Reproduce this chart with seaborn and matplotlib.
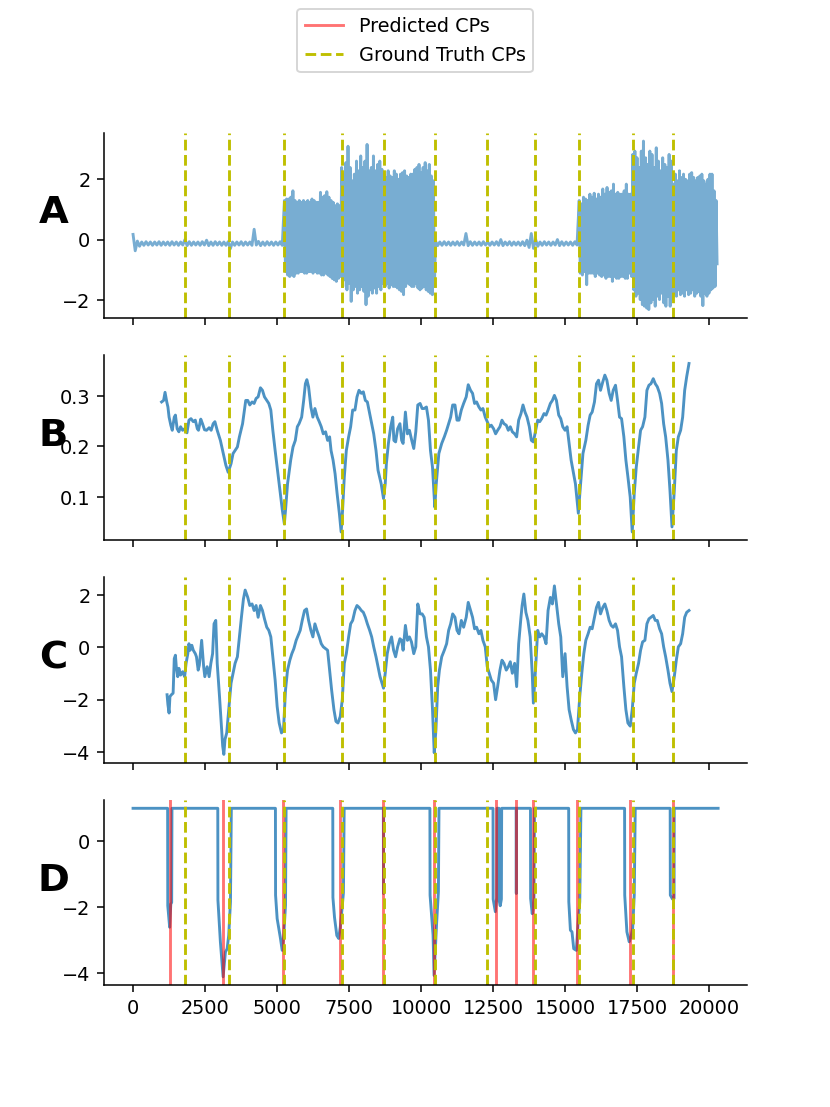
import numpy as np
import matplotlib
matplotlib.use("Agg")
import matplotlib.pyplot as plt
import seaborn as sns
from matplotlib.lines import Line2D

# ---------------- data ----------------
gt_cps = [1794, 3323, 5252, 7238, 8708, 10493, 12278, 13939, 15480, 17338, 18748]
pred_cps = [1278, 3130, 5186, 7188, 8689, 10448, 12580, 13300, 13860, 15418, 17260, 18724]

# Panel A: raw signal, described by its upper / lower envelope per regime
a_bounds = [0, 5252, 7238, 8708, 10493, 15480, 17338, 18748, 20300]
a_hi_q1 = [0.17, -0.05, -0.08, -0.07, -0.08, -0.08, -0.07, -0.08, -0.08, -0.07, -0.08, -0.08,
           0.0, -0.07, -0.08, -0.08, -0.07, -0.02, -0.08, -0.07, -0.08, -0.08, -0.07, -0.08,
           -0.08, -0.07, -0.08, -0.08, 0.34, -0.06, -0.08, -0.07, -0.08, -0.08, -0.07]
a_lo_q1 = [-0.37, -0.22, -0.19, -0.18, -0.19, -0.18, -0.19, -0.18, -0.19, -0.18, -0.19, -0.18,
           -0.2, -0.19, -0.18, -0.19, -0.18, -0.2, -0.19, -0.18, -0.19, -0.19, -0.3, -0.19,
           -0.18, -0.19, -0.18, -0.19, -0.18, -0.2, -0.19, -0.18, -0.19, -0.18, -0.19]
a_hi_s1 = [1.29, 1.34, 1.34, 1.40, 1.61, 1.29, 1.23, 1.29, 1.23, 1.29, 1.23, 1.29, 1.23, 1.34,
           1.29, 1.23, 1.23, 1.56, 1.40, 1.45, 1.58, 1.40, 1.29, 1.23, 1.12, 1.18, 1.12]
a_lo_s1 = [-1.06, -1.17, -1.22, -1.17, -1.22, -1.11, -1.11, -1.06, -1.06, -1.11, -1.11, -1.06,
           -1.06, -1.11, -1.06, -1.11, -1.11, -1.17, -1.17, -1.11, -1.17, -1.22, -1.28, -1.33,
           -1.38, -1.28, -1.22]
a_hi_s2 = [2.38, 2.16, 2.54, 3.08, 2.38, 1.94, 2.16, 2.59, 2.27, 2.76, 2.38, 2.59, 3.14, 2.27,
           2.38, 2.76, 2.27, 2.48, 2.59, 2.32]
a_lo_s2 = [-1.55, -1.33, -1.66, -1.44, -2.04, -1.66, -1.55, -1.77, -1.66, -1.55, -1.71, -2.15,
           -1.87, -1.66, -1.77, -1.60, -1.77, -1.55, -1.66, -1.44]
a_hi_s3 = [2.16, 2.05, 2.27, 2.10, 2.05, 2.27, 2.16, 1.99, 2.16, 2.21, 2.27, 2.10, 2.05, 2.16,
           2.16, 2.32, 2.38, 2.48, 2.21, 2.38, 2.54, 2.27, 2.48, 2.10, 1.94]
a_lo_s3 = [-1.55, -1.44, -1.60, -1.49, -1.55, -1.55, -1.60, -1.66, -1.71, -1.82, -1.55, -1.44,
           -1.49, -1.55, -1.55, -1.44, -1.60, -1.66, -1.60, -1.55, -1.66, -1.71, -1.77, -1.82,
           -1.55]
a_hi_q2 = [-0.05, -0.08, -0.07, -0.08, -0.08, -0.07, -0.08, 0.2, -0.07, -0.08, -0.08, -0.07,
           -0.08, -0.08, -0.07, 0.0, -0.08, -0.07, -0.08, -0.08, -0.07, -0.02, 0.2, 0.0, -0.08,
           -0.07, -0.08, -0.08, 0.0, -0.07, -0.08, -0.08, -0.07]
a_lo_q2 = [-0.2, -0.19, -0.18, -0.19, -0.18, -0.19, -0.18, -0.2, -0.19, -0.18, -0.19, -0.18,
           -0.19, -0.18, -0.19, -0.2, -0.18, -0.19, -0.18, -0.19, -0.2, -0.26, -0.29, -0.22,
           -0.19, -0.18, -0.19, -0.18, -0.2, -0.19, -0.18, -0.19, -0.18]
a_hi_s4 = [1.29, 1.18, 1.40, 1.34, 1.29, 1.50, 1.40, 1.53, 1.34, 1.50, 1.40, 1.67, 1.50, 1.72,
           1.56, 1.61, 1.83, 1.50, 1.56, 1.50, 1.50, 1.61, 1.83, 1.50, 1.50]
a_lo_s4 = [-1.11, -1.17, -1.06, -1.49, -1.11, -1.11, -1.11, -1.22, -1.11, -1.17, -1.22, -1.17,
           -1.28, -1.22, -1.22, -1.38, -1.22, -1.28, -1.28, -1.22, -1.22, -1.28, -1.28, -1.11,
           -1.22]
a_hi_s5 = [2.81, 2.92, 2.70, 2.38, 2.92, 3.25, 2.70, 2.48, 2.92, 2.81, 2.38, 3.03, 2.59, 2.27,
           2.70, 2.48, 2.38, 2.81, 2.59]
a_lo_s5 = [-1.66, -1.87, -1.77, -1.98, -2.15, -2.20, -2.26, -2.31, -2.09, -1.98, -2.20, -1.87,
           -1.98, -1.77, -2.09, -2.20, -1.87, -2.20, -1.98]
a_hi_s6 = [1.83, 2.16, 1.94, 2.27, 2.05, 2.16, 1.99, 1.94, 2.16, 2.21, 2.05, 1.94, 2.05, 2.10,
           2.16, 1.94, 1.83, 1.99, 2.16, 2.16, 1.61, 1.29]
a_lo_s6 = [-1.77, -1.87, -1.66, -1.82, -1.77, -1.87, -1.66, -1.82, -1.77, -1.66, -1.87, -1.77,
           -1.71, -1.87, -2.18, -1.77, -1.87, -1.77, -1.66, -1.60, -1.55, -0.80]

# Panel B
b_x = [990, 1060, 1110, 1170, 1210, 1250, 1310, 1360, 1430, 1470, 1530, 1590, 1650, 1720, 1790,
       1870, 1940, 2010, 2090, 2160, 2230, 2270, 2350, 2410, 2480, 2550, 2640, 2710, 2780, 2840,
       2920, 3030, 3130, 3220, 3300, 3400, 3470, 3540, 3620, 3690, 3800, 3910, 3980, 4050, 4130,
       4200, 4270, 4340, 4420, 4490, 4560, 4640, 4710, 4780, 4850, 4930, 5000, 5100, 5180, 5250,
       5290, 5360, 5470, 5550, 5630, 5700, 5760, 5850, 5920, 5980, 6030, 6090, 6170, 6240, 6310,
       6390, 6460, 6530, 6600, 6680, 6750, 6820, 6870, 6940, 7010, 7080, 7160, 7220, 7270, 7330,
       7400, 7480, 7550, 7620, 7700, 7770, 7840, 7920, 7990, 8060, 8130, 8210, 8280, 8350, 8430,
       8500, 8610, 8690, 8750, 8790, 8860, 8940, 9010, 9050, 9110, 9180, 9260, 9320, 9370, 9450,
       9520, 9590, 9670, 9740, 9810, 9880, 9960, 10030, 10100, 10180, 10250, 10320, 10390, 10470,
       10520, 10610, 10710, 10800, 10880, 10950, 11020, 11090, 11170, 11240, 11310, 11390, 11470,
       11560, 11630, 11710, 11780, 11850, 11920, 12000, 12070, 12140, 12220, 12290, 12360, 12430,
       12510, 12580, 12650, 12730, 12800, 12870, 12950, 13020, 13090, 13160, 13240, 13310, 13380,
       13460, 13530, 13600, 13670, 13750, 13820, 13890, 13970, 14040, 14110, 14180, 14260, 14330,
       14400, 14480, 14550, 14620, 14690, 14770, 14840, 14910, 14990, 15060, 15130, 15200, 15350,
       15450, 15530, 15610, 15710, 15790, 15860, 15930, 16010, 16080, 16150, 16220, 16300, 16370,
       16440, 16520, 16590, 16660, 16740, 16810, 16880, 16950, 17030, 17100, 17170, 17250, 17320,
       17390, 17460, 17540, 17610, 17680, 17760, 17830, 17900, 17970, 18050, 18120, 18190, 18270,
       18340, 18410, 18480, 18560, 18630, 18700, 18780, 18850, 18920, 19000, 19070, 19140, 19210,
       19290]
b_y = [.288, .291, .307, .288, .278, .258, .242, .232, .258, .262, .235, .229, .239, .232, .235,
       .227, .252, .255, .249, .252, .235, .232, .254, .245, .233, .232, .237, .232, .245, .249,
       .232, .212, .186, .163, .149, .166, .186, .192, .199, .219, .245, .291, .291, .282, .288,
       .285, .295, .298, .316, .311, .298, .291, .285, .272, .232, .192, .159, .113, .074, .047,
       .074, .126, .173, .199, .212, .239, .245, .258, .291, .324, .332, .318, .278, .258, .275,
       .258, .249, .239, .225, .229, .212, .219, .192, .173, .146, .107, .067, .031, .074, .140,
       .192, .219, .239, .272, .272, .298, .311, .305, .308, .291, .288, .265, .245, .225, .192,
       .153, .126, .097, .126, .166, .206, .239, .258, .212, .209, .235, .245, .212, .206, .268,
       .225, .232, .212, .196, .229, .282, .285, .275, .275, .278, .252, .192, .159, .080,
       .126, .186, .206, .219, .232, .245, .258, .282, .282, .252, .252, .272, .285,
       .298, .322, .311, .305, .285, .288, .278, .272, .275, .258, .249, .239, .242,
       .235, .225, .232, .239, .252, .245, .242, .232, .239, .229, .225, .219, .252,
       .265, .282, .268, .258, .239, .212, .209, .232, .252, .249, .255, .265, .262,
       .272, .285, .291, .301, .291, .262, .255, .239, .232, .239, .206, .173, .126,
       .068, .126, .186, .212, .242, .262, .268, .288, .324, .331, .311, .328, .341,
       .331, .305, .291, .311, .321, .291, .258, .255, .219, .173, .140, .100, .031,
       .107, .159, .199, .232, .239, .258, .311, .321, .324, .334, .324, .318, .305,
       .285, .245, .219, .173, .113, .041, .113, .192, .219, .232, .258, .311, .338,
       .364]

# Panel C
c_x = [1180, 1210, 1250, 1280, 1330, 1390, 1430, 1470, 1500, 1550, 1590, 1650, 1720, 1790, 1840,
       1900, 1940, 1980, 2040, 2090, 2160, 2200, 2260, 2300, 2380, 2450, 2490, 2570, 2640, 2700,
       2760, 2810, 2870, 2920, 2960, 3000, 3050, 3110, 3150, 3190, 3250, 3320, 3400, 3470, 3540,
       3620, 3690, 3760, 3830, 3890, 3980, 4050, 4130, 4200, 4270, 4340, 4420, 4490, 4560, 4640,
       4710, 4780, 4850, 4930, 5000, 5070, 5150, 5220, 5290, 5360, 5440, 5510, 5580, 5660, 5730,
       5800, 5870, 5950, 6020, 6090, 6170, 6240, 6310, 6380, 6460, 6530, 6600, 6680, 6750, 6820,
       6890, 6970, 7040, 7110, 7190, 7260, 7330, 7400, 7480, 7550, 7620, 7700, 7770, 7840, 7920,
       7990, 8060, 8130, 8210, 8280, 8350, 8430, 8500, 8570, 8640, 8690, 8750, 8820, 8890, 8970,
       9040, 9110, 9180, 9260, 9320, 9370, 9450, 9520, 9590, 9660, 9740, 9810, 9880, 9960, 10030,
       10100, 10180, 10250, 10320, 10390, 10450, 10510, 10570, 10630, 10710, 10800, 10880, 10950,
       11020, 11090, 11170, 11240, 11310, 11390, 11470, 11560, 11630, 11710, 11780, 11850, 11920,
       12000, 12070, 12140, 12220, 12290, 12360, 12430, 12510, 12580, 12650, 12730, 12800, 12870,
       12950, 13020, 13090, 13160, 13240, 13310, 13380, 13460, 13500, 13560, 13630, 13700, 13780,
       13850, 13890, 13970, 14040, 14110, 14180, 14260, 14330, 14400, 14480, 14550, 14620, 14690,
       14770, 14840, 14910, 14990, 15060, 15130, 15200, 15280, 15350, 15420, 15500, 15570, 15640,
       15710, 15790, 15860, 15930, 16010, 16080, 16150, 16220, 16300, 16370, 16440, 16520, 16590,
       16660, 16740, 16810, 16880, 16950, 17030, 17100, 17170, 17250, 17320, 17390, 17460, 17540,
       17610, 17680, 17760, 17830, 17900, 17970, 18050, 18120, 18190, 18270, 18340, 18410, 18480,
       18560, 18630, 18700, 18780, 18850, 18920, 19000, 19070, 19140, 19210, 19290]
c_y = [-1.81, -2.19, -2.51, -1.88, -1.81, -1.75, -0.43, -0.30, -0.74, -1.12, -0.80, -1.06, -0.93,
       -1.12, -0.61, -0.24, 0.14, -0.11, 0.08, -0.11, -0.24, -0.36, -0.87, -0.68, 0.27, -0.74,
       -1.12, -0.74, -1.12, -0.61, -0.24, 0.90, 1.03, -0.61, -1.25, -1.88, -2.76, -3.77, -4.09,
       -3.52, -3.27, -2.38, -1.37, -0.99, -0.61, -0.36, 0.40, 1.15, 1.85, 2.19, 1.91, 1.60, 1.66,
       1.41, 1.60, 1.15, 1.60, 1.41, 1.09, 0.77, 0.65, 0.40, -0.36, -1.25, -2.26, -2.89, -3.27,
       -3.14, -1.63, -0.87, -0.49, -0.24, -0.05, 0.27, 0.46, 0.65, 1.03, 1.41, 1.47, 1.03, 0.65,
       0.40, 0.90, 0.65, 0.40, 0.14, 0.02, -0.05, -0.11, -0.87, -1.63, -2.38, -2.83, -2.89, -2.64,
       -2.00, -0.61, -0.24, 0.40, 0.90, 1.03, 1.41, 1.60, 1.53, 1.41, 1.34, 1.15, 0.90, 0.65, 0.40,
       0.02, -0.36, -0.74, -1.12, -1.37, -1.56, -0.99, -0.24, 0.14, 0.40, -0.11, -0.36, 0.02, 0.33,
       0.27, -0.11, 0.84, 0.27, 0.40, 0.21, -0.24, 0.02, 1.66, 1.28, 1.28, 1.15, 0.40, 0.02, -0.87,
       -2.38, -4.03, -3.14, -1.50, -0.87, -0.36, -0.11, 0.14, 0.65, 0.90, 1.28, 1.15, 0.65, 0.52,
       1.03, 0.77, 1.15, 1.72, 1.41, 1.15, 0.71, 0.77, 0.52, 0.65, 0.27, 0.02, -0.74, -0.99, -1.25,
       -1.37, -2.00, -1.50, -0.87, -0.49, -0.61, -0.87, -0.74, -0.55, -0.99, -0.61, -1.50, 0.14,
       1.15, 1.60, 2.04, 1.34, 1.03, 0.40, -0.99, -2.13, -0.74, 0.65, 0.40, 0.52, 0.40, 0.14, 1.41,
       1.91, 1.66, 2.35, 1.66, 0.90, 0.40, -1.12, -0.24, -1.50, -2.38, -2.76, -3.14, -3.27, -3.14,
       -1.88, -0.99, -0.24, 0.27, 0.52, 0.77, 0.71, 1.15, 1.53, 1.72, 1.28, 1.53, 1.66, 1.41, 1.03,
       0.84, 0.77, 0.90, 0.65, 0.02, -0.36, -1.50, -2.38, -2.89, -3.01, -2.38, -1.37, -0.99, -0.61,
       -0.11, 0.21, 0.27, 0.90, 1.09, 1.15, 1.22, 1.03, 1.03, 0.71, 0.52, 0.02, -0.36, -0.87, -1.37,
       -1.69, -1.12, -0.49, 0.02, 0.14, 0.52, 1.15, 1.34, 1.41]

# Panel D
d_x = [0, 1200, 1205, 1240, 1270, 1310, 1340, 1350,
       2940, 2945, 3030, 3125, 3205, 3265, 3320, 3380, 3410,
       4940, 4945, 5000, 5115, 5175, 5230, 5290, 5310,
       6930, 6935, 6990, 7070, 7135, 7190, 7255, 7300, 7325,
       8685, 8690, 8695,
       10300, 10306, 10410, 10444, 10535, 10595, 10615,
       12490, 12495, 12570, 12620, 12630, 12700, 12705, 12740, 12780, 12790,
       13292, 13298, 13304,
       13790, 13795, 13850, 13910, 13930,
       15115, 15120, 15175, 15230, 15290, 15380, 15440, 15500, 15540,
       17055, 17060, 17135, 17215, 17275, 17335, 17390, 17425,
       18637, 18642, 18720, 18772, 18778,
       20300]
d_y = [1, 1, -1.95, -2.3, -2.6, -1.9, -1.85, 1,
       1, -1.78, -3.04, -4.1, -3.35, -3.25, -2.84, -1.83, 1,
       1, -1.63, -2.34, -2.94, -3.3, -2.84, -1.93, 1,
       1, -1.7, -2.3, -2.85, -2.94, -2.6, -2.0, -1.55, 1,
       1, -1.58, 1,
       1, -1.63, -2.84, -4.06, -2.44, -1.53, 1,
       1, -1.75, -2.13, -1.7, 1, 1, -1.8, -1.95, -1.75, 1,
       1, -1.58, 1,
       1, -1.73, -2.19, -1.9, 1,
       1, -1.83, -2.69, -2.74, -3.25, -3.3, -2.5, -1.83, 1,
       1, -1.63, -2.74, -3.04, -2.9, -2.64, -1.63, 1,
       1, -1.63, -1.75, -1.73, 1,
       1]

panel_labels = ["A", "B", "C", "D"]

# ---------------- build panel A path from envelopes ----------------
a_segments = [(a_hi_q1, a_lo_q1), (a_hi_s1, a_lo_s1), (a_hi_s2, a_lo_s2), (a_hi_s3, a_lo_s3),
              (a_hi_q2, a_lo_q2), (a_hi_s4, a_lo_s4), (a_hi_s5, a_lo_s5), (a_hi_s6, a_lo_s6)]
ax_x, ax_y = [], []
for i, (hi, lo) in enumerate(a_segments):
    start, end = a_bounds[i], a_bounds[i + 1]
    n = min(len(hi), len(lo))
    step = (end - start) / n
    for k in range(n):
        x0 = start + k * step
        ax_x += [x0, x0 + step / 2]
        ax_y += [hi[k], lo[k]]
ax_x = np.array(ax_x)
ax_y = np.array(ax_y)

# ---------------- plotting ----------------
blue = "#1f77b4"
fig, axes = plt.subplots(4, 1, sharex=True, figsize=(6, 8), dpi=138.4)

sns.lineplot(x=ax_x, y=ax_y, ax=axes[0], color=blue, alpha=0.6, estimator=None, sort=False)
sns.lineplot(x=np.array(b_x), y=np.array(b_y), ax=axes[1], color=blue, alpha=0.8,
             estimator=None, sort=False)
sns.lineplot(x=np.array(c_x), y=np.array(c_y), ax=axes[2], color=blue, alpha=0.8,
             estimator=None, sort=False)
sns.lineplot(x=np.array(d_x), y=np.array(d_y), ax=axes[3], color=blue, alpha=0.8,
             estimator=None, sort=False)

for cp in pred_cps:
    axes[3].axvline(cp, color="red", alpha=0.55)
for ax in axes:
    for cp in gt_cps:
        ax.axvline(cp, color="y", linestyle="--")

for ax, lab in zip(axes, panel_labels):
    ax.text(-0.078, 0.565, lab, transform=ax.transAxes, fontsize=20, fontweight="bold",
            ha="center", va="center")
    sns.despine(ax=ax)

handles = [Line2D([0], [0], color="red", alpha=0.55, label="Predicted CPs"),
           Line2D([0], [0], color="y", linestyle="--", label="Ground Truth CPs")]
fig.legend(handles=handles, loc="upper center")

fig.savefig("out.png", dpi=138.4)
